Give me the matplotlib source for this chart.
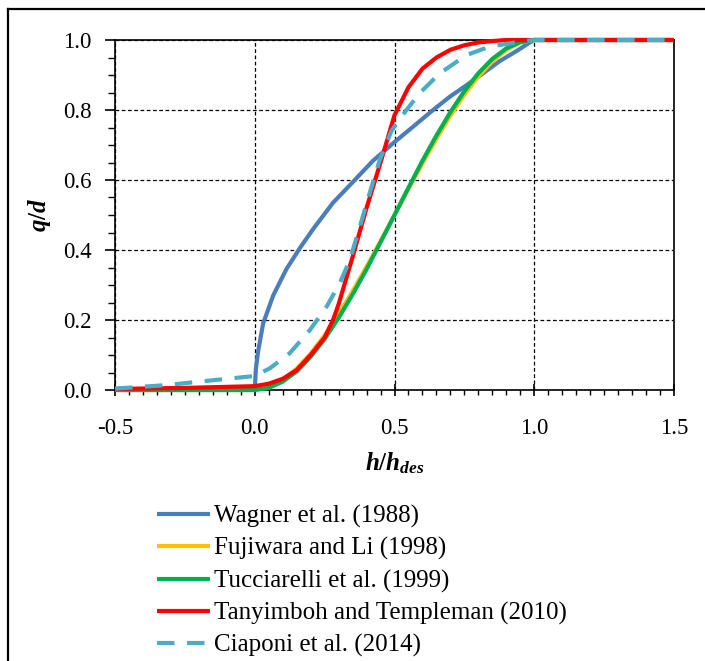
import matplotlib
matplotlib.use("Agg")
import matplotlib.pyplot as plt
from matplotlib.lines import Line2D
from matplotlib.ticker import MultipleLocator, FormatStrFormatter

plt.rcParams['font.family'] = ['Liberation Serif', 'DejaVu Serif']
plt.rcParams['mathtext.fontset'] = 'custom'
plt.rcParams['mathtext.it'] = 'Liberation Serif:italic:bold'
plt.rcParams['mathtext.rm'] = 'Liberation Serif:bold'
plt.rcParams['axes.unicode_minus'] = False

# --- data (h/h_des vs q/d) ---
wagner_x = [-0.5, 0.0, 0.0, 0.004, 0.012, 0.03, 0.066, 0.113, 0.161, 0.209, 0.28, 0.352,
            0.423, 0.495, 0.578, 0.638, 0.698, 0.758, 0.817, 0.877, 0.94, 0.984, 1.0, 1.5]
wagner_y = [0.0, 0.0, 0.0, 0.06, 0.11, 0.19, 0.27, 0.345, 0.405, 0.46, 0.535, 0.595,
            0.655, 0.705, 0.76, 0.8, 0.838, 0.871, 0.905, 0.94, 0.97, 0.993, 1.0, 1.0]

fuji_x = [-0.5, 0.0, 0.05, 0.1, 0.15, 0.2, 0.25, 0.3, 0.35, 0.4, 0.45, 0.5, 0.55, 0.6,
          0.65, 0.7, 0.75, 0.8, 0.85, 0.9, 0.95, 1.0, 1.5]
fuji_y = [0.0, 0.0, 0.007, 0.028, 0.061, 0.104, 0.156, 0.216, 0.282, 0.352, 0.425, 0.5,
          0.575, 0.648, 0.718, 0.784, 0.844, 0.896, 0.939, 0.972, 0.993, 1.0, 1.0]

tucc_x = [-0.5, 0.0, 0.05, 0.1, 0.15, 0.2, 0.25, 0.3, 0.35, 0.4, 0.45, 0.5, 0.55, 0.6,
          0.65, 0.7, 0.75, 0.8, 0.85, 0.9, 0.95, 1.0, 1.5]
tucc_y = [0.0, 0.0, 0.006, 0.024, 0.053, 0.095, 0.146, 0.206, 0.273, 0.345, 0.422, 0.5,
          0.578, 0.655, 0.727, 0.794, 0.854, 0.905, 0.946, 0.976, 0.994, 1.0, 1.0]

tany_x = [-0.5, -0.25, 0.0, 0.05, 0.1, 0.15, 0.2, 0.25, 0.28, 0.3, 0.35, 0.4, 0.45, 0.5,
          0.55, 0.6, 0.65, 0.7, 0.75, 0.8, 0.85, 0.9, 1.5]
tany_y = [0.003, 0.006, 0.011, 0.018, 0.032, 0.057, 0.1, 0.15, 0.2, 0.245, 0.38, 0.52,
          0.65, 0.785, 0.865, 0.918, 0.95, 0.972, 0.985, 0.993, 0.997, 1.0, 1.0]

ciap_x = [-0.5, -0.316, -0.161, 0.0, 0.054, 0.125, 0.197, 0.257, 0.304, 0.34, 0.376, 0.411,
          0.447, 0.489, 0.519, 0.543, 0.59, 0.662, 0.758, 0.84, 0.948, 1.0, 1.5]
ciap_y = [0.004, 0.014, 0.027, 0.04, 0.062, 0.105, 0.171, 0.238, 0.305, 0.371, 0.467, 0.562,
          0.657, 0.74, 0.775, 0.8, 0.848, 0.905, 0.957, 0.981, 0.995, 1.0, 1.0]

labels = ['Wagner et al. (1988)', 'Fujiwara and Li (1998)', 'Tucciarelli et al. (1999)',
          'Tanyimboh and Templeman (2010)', 'Ciaponi et al. (2014)']
colors = ['#4A7EBB', '#FFC000', '#00B050', '#FF0000', '#4BACC6']

W, H = 705, 661
fig = plt.figure(figsize=(W / 100, H / 100), dpi=100)
ax = fig.add_axes([115 / W, 1 - 390 / H, 559 / W, 350 / H])

series = [(wagner_x, wagner_y), (fuji_x, fuji_y), (tucc_x, tucc_y),
          (tany_x, tany_y), (ciap_x, ciap_y)]
for i, (xs, ys) in enumerate(series):
    ls = (0, (4.2, 3.0)) if i == 4 else '-'
    ax.plot(xs, ys, color=colors[i], lw=3, ls=ls, label=labels[i],
            clip_on=False, zorder=3 + i * 0.1, solid_capstyle='butt')

ax.set_xlim(-0.5, 1.5)
ax.set_ylim(0, 1)
ax.xaxis.set_major_locator(MultipleLocator(0.5))
ax.xaxis.set_minor_locator(MultipleLocator(0.05))
ax.yaxis.set_major_locator(MultipleLocator(0.2))
ax.yaxis.set_minor_locator(MultipleLocator(0.05))
ax.xaxis.set_major_formatter(FormatStrFormatter('%.1f'))
ax.yaxis.set_major_formatter(FormatStrFormatter('%.1f'))

ax.grid(which='major', color='black', linestyle=(0, (3, 2)), linewidth=0.9)
ax.set_axisbelow(True)
for sp in ax.spines.values():
    sp.set_linewidth(1.2)

ax.tick_params(axis='both', which='major', labelsize=16.5, width=1.2, color='black')
ax.tick_params(axis='x', which='major', direction='inout', length=8, pad=16)
ax.tick_params(axis='y', which='major', direction='out', length=7, pad=10)
ax.tick_params(axis='x', which='minor', direction='out', length=3.8, width=1.0)
ax.tick_params(axis='y', which='minor', direction='out', length=5, width=1.0)

ax.set_xlabel('$h/h_{des}$', fontsize=18)
ax.set_ylabel('$q/d$', fontsize=18)
ax.xaxis.set_label_coords(0.5, (390 - 450) / 350)
ax.yaxis.set_label_coords((53 - 115) / 559, 0.5)

fig.legend(loc='upper left', bbox_to_anchor=(157 / W, 1 - 505 / H), frameon=False,
           borderpad=0, borderaxespad=0, handlelength=2.1, handletextpad=0.2,
           labelspacing=0.37, prop={'size': 18})

# partial frame around the figure (top and left edges)
fig.add_artist(Line2D([8 / W, 1], [1 - 9 / H, 1 - 9 / H], transform=fig.transFigure,
                      color='black', lw=1.6))
fig.add_artist(Line2D([8 / W, 8 / W], [0, 1 - 9 / H], transform=fig.transFigure,
                      color='black', lw=1.6))

fig.savefig('out.png', dpi=100)
